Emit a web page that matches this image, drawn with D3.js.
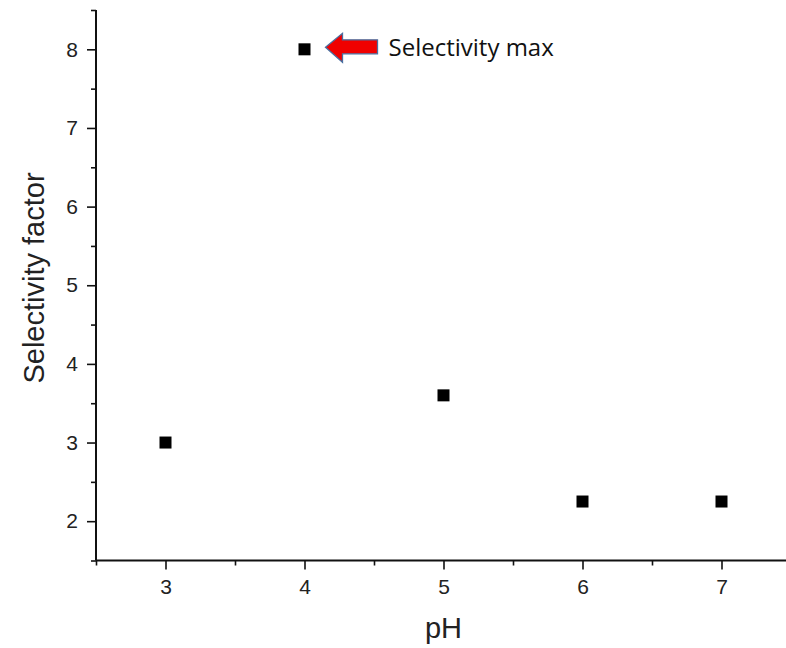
<!DOCTYPE html>
<html>
<head>
<meta charset="utf-8">
<script src="https://cdn.jsdelivr.net/npm/d3@7"></script>
<style>
  html, body { margin: 0; padding: 0; background: #fff; }
  svg { display: block; }
</style>
</head>
<body>
<script>
// Selectivity factor measured at each pH
const phValues = [3, 4, 5, 6, 7];
const selectivity = [3, 8, 3.6, 2.25, 2.25];
const xTicks = [3, 4, 5, 6, 7];
const yTicks = [2, 3, 4, 5, 6, 7, 8];
const xMinorTicks = [2.5, 3.5, 4.5, 5.5, 6.5, 7.5];
const yMinorTicks = [1.5, 2.5, 3.5, 4.5, 5.5, 6.5, 7.5, 8.5];
const annotationText = "Selectivity max";
const annotationPoint = { ph: 4, value: 8 };

const W = 786, H = 648;
const svg = d3.select("body").append("svg").attr("width", W).attr("height", H);

const x = d3.scaleLinear().domain([2.5, 7.5]).range([96, 791]);
const y = d3.scaleLinear().domain([1.5, 8.5]).range([560.5, 10]);

const axisColor = "#111";
const sans = "'Liberation Sans', Arial, sans-serif";

// x axis: major ticks with labels, minor ticks without
const gx = svg.append("g").attr("transform", `translate(0,${y(1.5)})`);
gx.call(d3.axisBottom(x).tickValues(xTicks).tickSize(9).tickPadding(10).tickFormat(d3.format("d")));
gx.append("g").call(d3.axisBottom(x).tickValues(xMinorTicks).tickSize(5).tickFormat(""))
  .select(".domain").remove();
gx.select(".domain").attr("d", `M${x(2.5)},0H${W}`);

// y axis
const gy = svg.append("g").attr("transform", `translate(${x(2.5)},0)`);
gy.call(d3.axisLeft(y).tickValues(yTicks).tickSize(9).tickPadding(9).tickFormat(d3.format("d")));
gy.append("g").call(d3.axisLeft(y).tickValues(yMinorTicks).tickSize(5).tickFormat(""))
  .select(".domain").remove();
gy.select(".domain").attr("d", `M0,${y(8.5)}V${y(1.5)}`);

svg.selectAll(".domain").attr("stroke", axisColor).attr("stroke-width", 2);
svg.selectAll(".tick line").attr("stroke", axisColor).attr("stroke-width", 1.6);
svg.selectAll(".tick text")
  .attr("font-family", sans)
  .attr("font-size", 21)
  .attr("fill", "#222");

// axis titles
svg.append("text")
  .attr("x", x(5)).attr("y", 638)
  .attr("text-anchor", "middle")
  .attr("font-family", sans)
  .attr("font-size", 29).attr("fill", "#222")
  .text("pH");

svg.append("text")
  .attr("transform", `translate(44,278) rotate(-90)`)
  .attr("text-anchor", "middle")
  .attr("font-family", sans)
  .attr("font-size", 29).attr("fill", "#222")
  .text("Selectivity factor");

// data markers
const size = 12;
svg.append("g").selectAll("rect")
  .data(phValues.map((p, i) => ({ p, v: selectivity[i] })))
  .join("rect")
  .attr("x", d => x(d.p) - size / 2)
  .attr("y", d => y(d.v) - size / 2)
  .attr("width", size).attr("height", size)
  .attr("fill", "#000");

// annotation arrow pointing at the maximum
const ax = x(annotationPoint.ph) + 21, ay = y(annotationPoint.value) - 2;
const arrow = [
  [ax, ay],
  [ax + 17, ay - 14],
  [ax + 17, ay - 7.5],
  [ax + 52, ay - 7.5],
  [ax + 52, ay + 6.5],
  [ax + 17, ay + 6.5],
  [ax + 17, ay + 15]
];
svg.append("path")
  .attr("d", d3.line()(arrow) + "Z")
  .attr("fill", "#f00000")
  .attr("stroke", "#4a6fa0")
  .attr("stroke-width", 1.3)
  .attr("stroke-linejoin", "miter");

svg.append("text")
  .attr("x", ax + 63).attr("y", ay + 9)
  .attr("font-family", "'Open Sans', 'Noto Sans', sans-serif")
  .attr("font-size", 24).attr("fill", "#111")
  .text(annotationText);
</script>
</body>
</html>
